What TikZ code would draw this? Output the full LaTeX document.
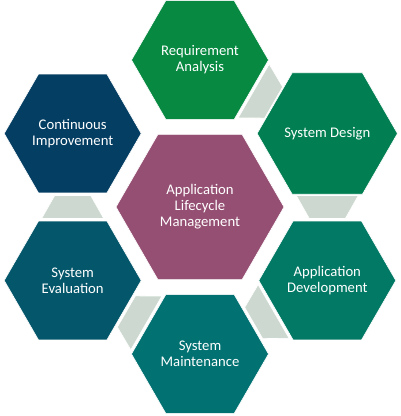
\documentclass[tikz,border=0pt]{standalone}
\usepackage{fontspec}
\setmainfont{Carlito}
\usetikzlibrary{shapes.geometric,calc}
\definecolor{cReq}{RGB}{7,137,65}
\definecolor{cDes}{RGB}{2,127,82}
\definecolor{cDev}{RGB}{2,121,101}
\definecolor{cMnt}{RGB}{2,113,114}
\definecolor{cEva}{RGB}{4,86,106}
\definecolor{cCon}{RGB}{5,62,99}
\definecolor{cCtr}{RGB}{149,79,115}
\definecolor{cLink}{RGB}{205,217,208}
\tikzset{
  hexbox/.style={regular polygon, regular polygon sides=6, minimum size=137pt, inner sep=0pt,
    outer sep=0pt, draw=white, line width=0.6pt, text=white, align=center,
    font=\fontsize{14.7}{16}\selectfont},
  bighex/.style={hexbox, minimum size=168pt},
  linkfill/.style={fill=cLink, draw=white, line width=0.6pt}
}
\newcommand\drawlink[2]{%
  \coordinate (lm) at ($(#1)!0.5!(#2)$);
  \coordinate (ls) at ($(lm)!11.5pt!(#1)$);
  \coordinate (lt) at ($(lm)!11.5pt!(#2)$);
  \path[linkfill] ($(ls)!31pt!90:(#1)$) -- ($(ls)!31pt!-90:(#1)$)
     -- ($(lt)!18pt!90:(#2)$) -- ($(lt)!18pt!-90:(#2)$) -- cycle;}
\begin{document}
\begin{tikzpicture}[x=1pt,y=1pt]
\useasboundingbox (0,0) rectangle (400,416);
\coordinate (O) at (200,209);
\node[bighex, fill=cCtr] (ctr) at (O) {Application\\Lifecycle\\Management};
\node[hexbox, fill=cReq] (req) at ($(O)+(90:147)$) {Requirement\\Analysis};
\node[hexbox, fill=cDes] (des) at ($(O)+(30:147)$) {System Design};
\node[hexbox, fill=cDev] (dev) at ($(O)+(-30:147)$) {Application\\Development};
\node[hexbox, fill=cMnt] (mnt) at ($(O)+(-90:147)$) {System\\Maintenance};
\node[hexbox, fill=cEva] (eva) at ($(O)+(-150:147)$) {System\\Evaluation};
\node[hexbox, fill=cCon] (con) at ($(O)+(150:147)$) {Continuous\\Improvement};
\drawlink{req.center}{des.center}
\drawlink{des.center}{dev.center}
\drawlink{dev.center}{mnt.center}
\drawlink{mnt.center}{eva.center}
\drawlink{eva.center}{con.center}
\end{tikzpicture}
\end{document}
